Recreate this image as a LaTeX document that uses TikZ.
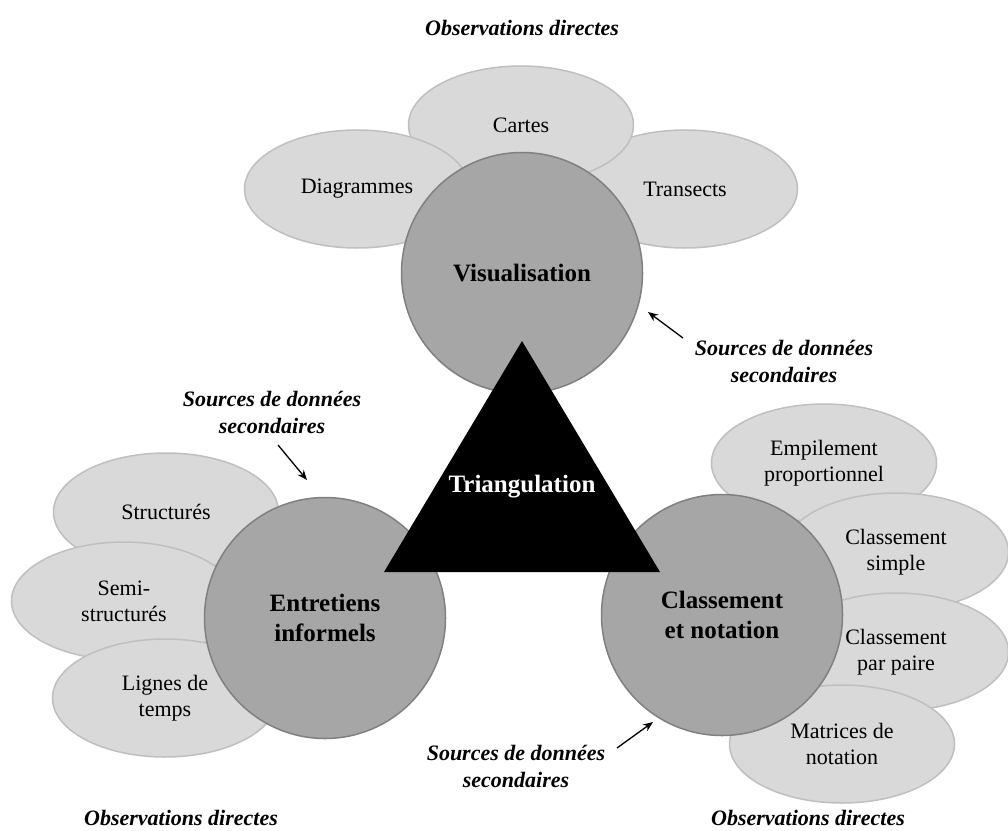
\documentclass[tikz,border=0pt]{standalone}
\usepackage{fontspec}
\setmainfont{Liberation Serif}
\usetikzlibrary{shapes.geometric,arrows.meta}
\begin{document}
\begin{tikzpicture}[x=1pt,y=-1pt,
    petal/.style={ellipse,draw=black!25,line width=1.5pt,fill=black!15,minimum width=225pt,minimum height=118pt,inner sep=0pt,align=center,font=\fontsize{22}{26}\selectfont},
    hub/.style={circle,draw=black!50,line width=1.5pt,fill=black!35,minimum size=241pt,inner sep=0pt,align=center,font=\fontsize{25}{30}\selectfont\bfseries},
    note/.style={align=center,font=\fontsize{22}{27}\selectfont\bfseries\itshape},
    pointer/.style={-{Stealth[length=10pt,width=8pt]},line width=1.3pt}]
  \useasboundingbox (0,0) rectangle (1008,830);
  % top: visualisation
  \node [petal] (transects) at (685,189) {Transects};
  \node [petal] (cartes) at (521,125) {Cartes};
  \node [petal] (diagrammes) at (357,189) {Diagrammes};
  \node [hub] (visu) at (522,273) {Visualisation};
  % left: entretiens
  \node [petal] (struct) at (166,512) {Structurés};
  \node [petal] (semi) at (124,601) {Semi-\\structurés};
  \node [petal] (lignes) at (165,698) {Lignes de\\temps};
  \node [hub] (entretiens) at (325,618) {Entretiens\\informels};
  % right: classement
  \node [petal] (empil) at (824,463) {Empilement\\proportionnel};
  \node [petal] (simple) at (896,552) {Classement\\simple};
  \node [petal] (paire) at (896,652) {Classement\\par paire};
  \node [petal] (matrices) at (842,744) {Matrices de\\notation};
  \node [hub] (classement) at (722,615) {Classement\\et notation};
  % triangle
  \fill (522,341) -- (660,572) -- (384,572) -- cycle;
  \node [font=\fontsize{25}{30}\selectfont\bfseries,text=white] (tri) at (522,487) {Triangulation};
  % labels
  \node [note] (obs1) at (522,28) {Observations directes};
  \node [note] (obs2) at (181,818) {Observations directes};
  \node [note] (obs3) at (808,818) {Observations directes};
  \node [note] (src1) at (784,361) {Sources de données\\secondaires};
  \node [note] (src2) at (272,412) {Sources de données\\secondaires};
  \node [note] (src3) at (516,766) {Sources de données\\secondaires};
  \coordinate (t1) at (683,338);
  \coordinate (h1) at (648,312);
  \coordinate (t2) at (278,445);
  \coordinate (h2) at (307,480);
  \coordinate (t3) at (617,748);
  \coordinate (h3) at (653,722);
  \draw [pointer] (t1) -- (h1);
  \draw [pointer] (t2) -- (h2);
  \draw [pointer] (t3) -- (h3);
\end{tikzpicture}
\end{document}
